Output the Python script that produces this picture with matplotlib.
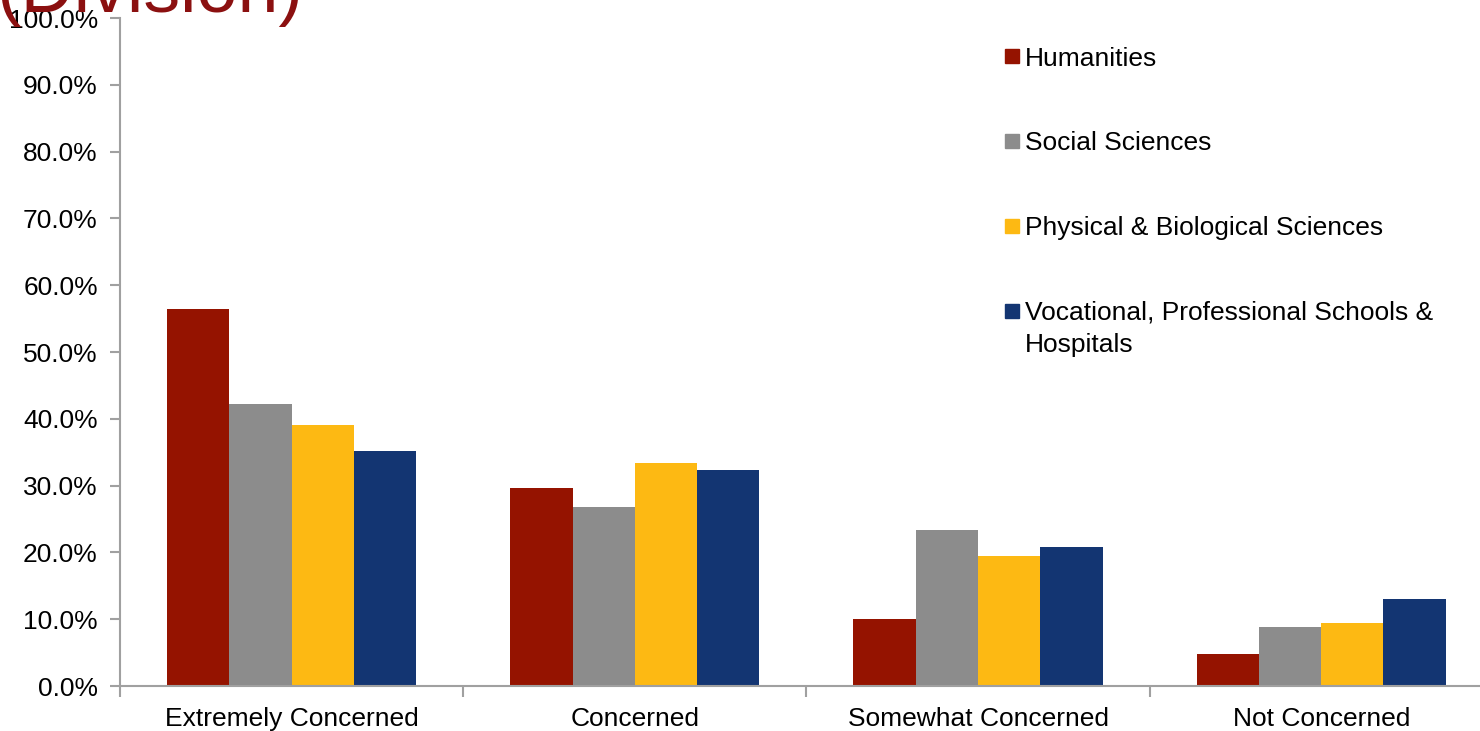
import matplotlib
matplotlib.use("Agg")
import matplotlib.pyplot as plt
from matplotlib.patches import Rectangle
from matplotlib.ticker import FuncFormatter, FixedLocator
import numpy as np

categories = ["Extremely Concerned", "Concerned", "Somewhat Concerned", "Not Concerned"]
series_names = ["Humanities", "Social Sciences", "Physical & Biological Sciences",
                "Vocational, Professional Schools &\nHospitals"]
humanities = [56.4, 29.6, 10.0, 4.8]
social = [42.2, 26.8, 23.4, 8.8]
physical = [39.1, 33.4, 19.5, 9.4]
vocational = [35.2, 32.3, 20.8, 13.0]
colors = ["#951300", "#8C8C8C", "#FDB913", "#133572"]

plt.rcParams['font.family'] = ['Liberation Sans', 'DejaVu Sans']

W, H = 1480, 731
fig = plt.figure(figsize=(W / 100, H / 100), dpi=100)
x_left, x_right = 120, 120 + 4 * 343.2
y0, y100 = 686, 18
ax = fig.add_axes([x_left / W, (H - y0) / H, (x_right - x_left) / W, (y0 - y100) / H])

data = [humanities, social, physical, vocational]
x = np.arange(len(categories))
bw = 0.1815
for i, (vals, c) in enumerate(zip(data, colors)):
    ax.bar(x + (i - 1.5) * bw, vals, width=bw, color=c, zorder=2)

ax.set_xlim(-0.5, len(categories) - 0.5)
ax.set_ylim(0, 100)
ax.yaxis.set_major_locator(FixedLocator(np.arange(0, 101, 10)))
ax.yaxis.set_major_formatter(FuncFormatter(lambda v, p: f"{v:.1f}%"))
ax.set_xticks(x)
ax.set_xticklabels(categories)
ax.set_xticks(np.arange(-0.5, len(categories), 1), minor=True)
ax.tick_params(axis='x', which='major', length=0, labelsize=19, pad=15)
ax.tick_params(axis='x', which='minor', length=8, color='#A0A0A0', width=1.5)
ax.tick_params(axis='y', length=7, color='#A0A0A0', width=1.5, labelsize=19, pad=9)
for s in ['top', 'right']:
    ax.spines[s].set_visible(False)
for s in ['left', 'bottom']:
    ax.spines[s].set_color('#A0A0A0')
    ax.spines[s].set_linewidth(1.5)

# legend (manual)
ys = [56, 141, 226, 311]
for name, c, yy in zip(series_names, colors, ys):
    fig.patches.append(Rectangle((1005 / W, (H - yy - 7) / H), 14 / W, 14 / H,
                                 transform=fig.transFigure, color=c))
    if "\n" in name:
        fig.text(1025 / W, (H - yy + 11) / H, name, fontsize=19, va='top',
                 ha='left', linespacing=1.45)
    else:
        fig.text(1025 / W, (H - yy) / H, name, fontsize=19,
                 va='center_baseline', ha='left')

fig.text(-4 / W, (H - 12) / H, "(Division)", fontsize=53, color="#8B1010",
         ha='left', va='baseline')

fig.savefig("out.png", dpi=100)
